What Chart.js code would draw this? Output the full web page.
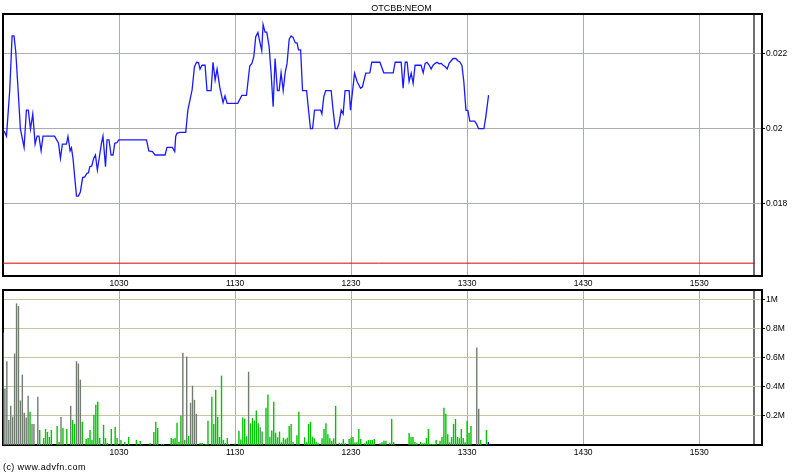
<!DOCTYPE html>
<html><head><meta charset="utf-8">
<script src="https://cdn.jsdelivr.net/npm/chart.js@4.4.1/dist/chart.umd.min.js"></script>
<style>
html,body{margin:0;padding:0;background:#fff;width:800px;height:475px;overflow:hidden;}
#top{position:absolute;left:0;top:0;}
#bot{position:absolute;left:0;top:280px;}
#foot{position:absolute;left:3px;top:462px;font:9px "Liberation Sans",Arial,sans-serif;letter-spacing:0.4px;color:#000;}
</style></head><body>
<canvas id="top" width="800" height="292"></canvas>
<canvas id="bot" width="800" height="195"></canvas>
<div id="foot">(c) www.advfn.com</div>
<script>
// ---- data ----
const symbol = 'OTCBB:NEOM';
const xTickMinutes = [60, 120, 180, 240, 300, 360];            // minutes after 09:30
const xTickLabels = ['1030', '1130', '1230', '1330', '1430', '1530'];
const sessionEndMinute = 388.6;
const xMaxMinute = 392.5;
const priceTicks = [0.018, 0.020, 0.022];
const priceMin = 0.01609, priceMax = 0.02304;
const refPrice = 0.01643;
const priceMinutes = [0,0.7,1.8,3.5,4.7,5.7,6.6,7.8,9.0,10.9,
12.1,13.1,14.2,15.4,16.6,17.6,18.6,19.7,20.7,26.7,
28.7,29.7,30.7,32.8,33.6,34.7,35.4,36.2,38.0,39.0,
40.0,41.2,42.3,43.3,44.2,44.9,45.9,46.9,47.8,48.8,
50.0,50.9,51.7,53.0,53.8,54.8,55.9,56.9,57.8,59.0,
59.9,74.2,75.4,77.3,78.6,83.8,84.8,87.6,88.8,89.3,
90.0,91.8,94.5,95.6,97.8,99.0,100.1,101.1,101.9,102.9,
104.5,105.5,107.6,108.6,109.7,110.7,112.1,113.8,114.8,115.9,
121.4,123.5,125.9,127.6,128.7,129.7,130.7,131.8,132.8,133.8,
134.5,135.5,136.4,137.6,138.6,139.7,140.7,141.9,142.8,143.8,
144.9,145.9,146.9,148.0,149.0,150.0,151.1,152.1,152.8,153.9,
154.9,157.0,158.0,159.0,160.1,161.1,164.2,164.9,165.9,166.9,
169.7,170.7,171.8,172.8,173.8,174.9,175.9,176.9,179.0,179.7,
180.8,181.8,183.1,184.9,185.9,187.6,189.7,190.7,194.9,196.9,
201.8,202.8,205.9,206.9,208.0,209.0,210.0,211.1,212.1,213.1,
216.2,217.3,218.3,219.3,220.4,221.4,222.4,223.5,224.5,225.5,
226.6,227.6,228.7,229.7,230.7,231.8,232.8,234.2,235.2,236.2,
237.3,238.3,239.4,240.4,241.4,243.9,244.9,245.9,248.7,249.7,
251.1];
const priceValues = [0.01990,0.01992,0.01980,0.02103,0.02246,0.02246,0.02204,0.02103,0.01999,0.01950,
0.02049,0.02049,0.01999,0.02039,0.01959,0.01980,0.01980,0.01941,0.01980,0.01980,
0.01961,0.01921,0.01959,0.01959,0.01979,0.01941,0.01949,0.01921,0.01821,0.01821,
0.01832,0.01870,0.01872,0.01881,0.01883,0.01899,0.01901,0.01921,0.01930,0.01890,
0.01930,0.01961,0.01980,0.01899,0.01970,0.01970,0.01930,0.01930,0.01961,0.01963,
0.01970,0.01970,0.01941,0.01939,0.01930,0.01930,0.01950,0.01950,0.01939,0.01979,
0.01988,0.01990,0.01990,0.02049,0.02103,0.02164,0.02176,0.02175,0.02158,0.02168,
0.02168,0.02101,0.02101,0.02176,0.02129,0.02158,0.02110,0.02069,0.02087,0.02067,
0.02067,0.02088,0.02088,0.02166,0.02173,0.02191,0.02244,0.02255,0.02231,0.02207,
0.02276,0.02256,0.02256,0.02218,0.02151,0.02058,0.02186,0.02101,0.02101,0.02148,
0.02101,0.02148,0.02173,0.02237,0.02246,0.02242,0.02228,0.02227,0.02209,0.02209,
0.02101,0.02101,0.02049,0.02000,0.02000,0.02049,0.02049,0.02039,0.02085,0.02101,
0.02101,0.02049,0.02000,0.02000,0.02014,0.02049,0.02039,0.02101,0.02101,0.02049,
0.02101,0.02147,0.02125,0.02107,0.02111,0.02147,0.02148,0.02176,0.02176,0.02148,
0.02148,0.02176,0.02176,0.02107,0.02176,0.02176,0.02125,0.02147,0.02120,0.02168,
0.02168,0.02148,0.02173,0.02176,0.02168,0.02158,0.02168,0.02173,0.02176,0.02172,
0.02173,0.02168,0.02164,0.02158,0.02173,0.02180,0.02186,0.02186,0.02180,0.02177,
0.02168,0.02125,0.02049,0.02048,0.02020,0.02020,0.02012,0.02000,0.02000,0.02032,
0.02089];
// volume per minute from 09:30, in thousands of shares
const volumeK = [772,388,575,172,269,195,628,972,954,306,
483,221,188,338,228,145,145,0,331,103,
7,48,110,90,55,103,0,0,131,21,
193,117,0,110,0,269,172,145,575,559,
448,159,0,41,48,103,34,207,276,297,
48,0,138,48,14,0,110,0,124,48,
0,34,0,21,0,55,0,0,0,34,
0,28,0,0,0,0,14,0,90,159,
117,0,7,7,0,0,0,48,41,48,
152,21,200,634,34,607,62,290,407,310,
214,0,14,14,0,7,166,0,331,145,
379,193,55,476,34,14,48,7,0,0,
10,0,98,38,188,180,60,503,148,185,
167,236,150,122,92,0,255,347,57,99,
297,85,53,92,19,50,39,50,131,145,
21,0,67,228,0,0,53,19,145,159,
57,46,19,12,0,46,110,150,74,46,
30,46,269,0,16,12,40,12,0,42,
50,55,18,19,110,41,0,12,26,34,
34,34,41,0,0,12,19,30,30,0,
16,179,21,0,0,0,0,0,0,0,
83,55,55,21,12,0,21,12,12,48,
110,7,7,7,34,0,30,55,255,214,
74,19,55,145,179,55,46,110,48,19,
166,83,131,0,0,669,248,34,0,0,
103,21];
const volumeGrayMinutes = [0,1,2,3,4,5,6,7,8,9,10,11,12,13,15,16,18,30,35,38,39,40,93,95,97,98,99,100,127,133,245,246];
const volumeBlueMinutes = [251];
const volTicksK = [200, 400, 600, 800, 1000];
const volMaxK = 1064;

// ---- styling ----
Chart.defaults.font.family = '"Liberation Sans", Arial, sans-serif';
Chart.defaults.font.size = 8.5;
Chart.defaults.color = '#000';
const FONT = {size: 8.5, family: '"Liberation Sans", Arial, sans-serif'};

function xScale() {
  return {
    type: 'linear', min: 0, max: xMaxMinute, offset: false,
    afterBuildTicks: s => { s.ticks = xTickMinutes.concat([sessionEndMinute]).map(v => ({value: v})); },
    afterFit: s => { s.height = 16; },
    ticks: {autoSkip: false, maxRotation: 0, padding: 3, color: '#000', font: FONT,
      callback: v => { const i = xTickMinutes.indexOf(v); return i >= 0 ? xTickLabels[i] : ''; }},
    grid: {drawTicks: false, offset: false,
      color: c => (c.tick && c.tick.value === sessionEndMinute) ? '#707070' : '#a9adad',
      lineWidth: c => (c.tick && c.tick.value === sessionEndMinute) ? 2 : 1},
    border: {display: true, color: '#000', width: 2}
  };
}
function frameScales() {
  return {
    xTop: {type: 'linear', position: 'top', display: true, ticks: {display: false}, grid: {display: false},
      border: {display: true, color: '#000', width: 2}, afterFit: s => { s.height = 0; }},
    yLeft: {type: 'linear', position: 'left', display: true, ticks: {display: false}, grid: {display: false},
      border: {display: true, color: '#000', width: 2}, afterFit: s => { s.width = 0; }}
  };
}

new Chart(document.getElementById('top'), {
  type: 'line',
  data: {
    datasets: [
      {data: priceMinutes.map((m, i) => ({x: m, y: priceValues[i]})), borderColor: '#1a1aff', borderWidth: 1.3,
       pointRadius: 0, tension: 0, fill: false},
      {data: [{x: 0, y: refPrice}, {x: sessionEndMinute, y: refPrice}], borderColor: '#e00000', borderWidth: 1,
       pointRadius: 0, fill: false}
    ]
  },
  options: {
    responsive: false, animation: false, devicePixelRatio: 1,
    layout: {padding: {left: 3, right: 0, top: 0, bottom: 0}},
    plugins: {legend: {display: false}, tooltip: {enabled: false},
      title: {display: true, text: symbol, color: '#000', font: {size: 9, weight: 'normal', family: FONT.family},
        padding: {top: 3, bottom: 0.2}}},
    scales: Object.assign({
      x: xScale(),
      y: {position: 'right', min: priceMin, max: priceMax,
        afterBuildTicks: s => { s.ticks = priceTicks.map(v => ({value: v})); },
        afterFit: s => { s.width = 38; },
        ticks: {padding: 1, color: '#000', font: FONT, callback: v => String(+v.toFixed(3))},
        grid: {color: '#a9adad', tickLength: 3, tickColor: '#000'},
        border: {display: true, color: '#000', width: 2}}
    }, frameScales())
  }
});

new Chart(document.getElementById('bot'), {
  type: 'bar',
  data: {
    datasets: [{
      data: volumeK.map((v, i) => ({x: i, y: v})),
      backgroundColor: volumeK.map((v, i) => volumeBlueMinutes.includes(i) ? '#0000cc' :
        (volumeGrayMinutes.includes(i) ? '#6f7d6f' : '#00c400')),
      barThickness: 1.4, inflateAmount: 0, borderWidth: 0
    }]
  },
  options: {
    responsive: false, animation: false, devicePixelRatio: 1,
    layout: {padding: {left: 3, right: 0, top: 10, bottom: 14}},
    plugins: {legend: {display: false}, tooltip: {enabled: false}},
    scales: Object.assign({
      x: xScale(),
      y: {position: 'right', min: 0, max: volMaxK,
        afterBuildTicks: s => { s.ticks = volTicksK.map(v => ({value: v})); },
        afterFit: s => { s.width = 38; },
        ticks: {padding: 1, color: '#000', font: FONT, callback: v => (v / 1000) + 'M'},
        grid: {color: '#c4c4a6', tickLength: 3, tickColor: '#000'},
        border: {display: true, color: '#000', width: 2}}
    }, frameScales())
  }
});
</script>
</body></html>
